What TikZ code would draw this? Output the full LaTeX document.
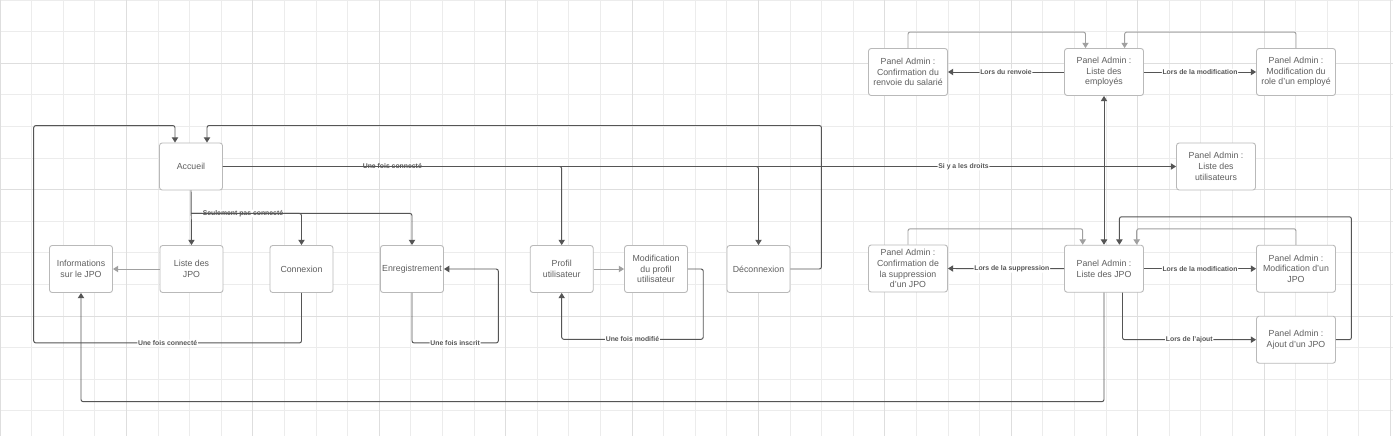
\documentclass[tikz,border=0pt]{standalone}
\usepackage{fontspec}
\setmainfont{Liberation Sans}
\usepackage{tikz}
\usetikzlibrary{arrows.meta,positioning,calc}
\definecolor{linegray}{RGB}{85,85,85}
\definecolor{lightline}{RGB}{160,160,160}
\definecolor{boxgray}{RGB}{185,185,185}
\definecolor{textgray}{RGB}{95,95,95}
\definecolor{gridlight}{RGB}{236,236,236}
\definecolor{griddark}{RGB}{222,222,222}

\begin{document}
\begin{tikzpicture}[
x=0.02cm,y=-0.02cm,
box/.style={draw=boxgray,fill=white,rounded corners=1.5pt,line width=0.5pt,align=center,text=textgray,font=\fontsize{5}{6.1}\selectfont,minimum width=1.26cm,minimum height=0.94cm,inner sep=1pt},
adminbox/.style={box,minimum width=1.58cm},
arr/.style={-{Triangle[width=3.6pt,length=3pt]},line width=0.55pt,linegray,rounded corners=1.2pt},
arrlight/.style={arr,lightline},
lbl/.style={fill=white,inner sep=0.4pt,text=linegray,font=\fontsize{3.9}{4}\selectfont\bfseries}
]
\useasboundingbox (0,0) rectangle (1393,436);
\fill[white] (0,0) rectangle (1393,436);
% grid
\foreach \i in {0,...,44} \draw[gridlight,line width=0.4pt] (\i*31.6,0) -- (\i*31.6,436);
\foreach \j in {0,...,13} \draw[gridlight,line width=0.4pt] (0,\j*31.6) -- (1393,\j*31.6);
\foreach \i in {0,4,...,44} \draw[griddark,line width=0.4pt] (\i*31.6,0) -- (\i*31.6,436);
\foreach \j in {2,6,10} \draw[griddark,line width=0.4pt] (0,\j*31.6) -- (1393,\j*31.6);

% user side
\node[box] (acc) at (191,166.5) {Accueil};
\node[box] (info) at (81,269) {Informations\\sur le JPO};
\node[box] (liste) at (191.5,269) {Liste des\\JPO};
\node[box] (conn) at (301.5,269) {Connexion};
\node[box] (enr) at (412,269) {Enregistrement};
\node[box] (prof) at (561.7,269) {Profil\\utilisateur};
\node[box] (modp) at (656,269) {Modification\\du profil\\utilisateur};
\node[box] (deco) at (758.5,269) {Déconnexion};

% admin side
\node[adminbox] (confr) at (908,72) {Panel Admin :\\Confirmation du\\renvoie du salarié};
\node[adminbox] (emp) at (1104,72) {Panel Admin :\\Liste des\\employés};
\node[adminbox] (modr) at (1296,72) {Panel Admin :\\Modification du\\role d'un employé};
\node[adminbox] (util) at (1216,166.5) {Panel Admin :\\Liste des\\utilisateurs};
\node[adminbox] (confs) at (908,268.5) {Panel Admin :\\Confirmation de\\la suppression\\d'un JPO};
\node[adminbox] (jpoa) at (1104,268.7) {Panel Admin :\\Liste des JPO};
\node[adminbox] (modj) at (1296,268.7) {Panel Admin :\\Modification d'un\\JPO};
\node[adminbox] (ajout) at (1296,339.7) {Panel Admin :\\Ajout d'un JPO};

\coordinate (split) at ($(acc.south)+(0,23)$);
\draw[arr] (acc.south) -- (liste.north);
\draw[arr] (split) -| node[lbl,pos=0.235]{Seulement pas connecté} (conn.north);
\draw[arr] (split) -| (enr.north);
\draw[arr] (acc.east) -| node[lbl,pos=0.25]{Une fois connecté} (prof.north);
\draw[arr] (acc.east) -| (deco.north);
\draw[arr] (acc.east) -- node[lbl,pos=0.777]{Si y a les droits} (util.west);
\draw[arr] (conn.south) |- node[lbl,pos=0.75]{Une fois connecté} ($(info.south)+(-47.3,50)$) |- ($(acc.north)+(-16,-17)$) -- ($(acc.north)+(-16,0)$);
\draw[arr] (deco.east) -| ($(deco.east)+(31,-143.5)$) -| ($(acc.north)+(16,0)$);
\draw[arrlight] (liste.west) -- (info.east);
\draw[arr] (enr.south) |- node[lbl,pos=0.75]{Une fois inscrit} ($(enr.south)+(86.3,50)$) |- (enr.east);
\draw[arrlight] (prof.east) -- (modp.west);
\draw[arr] (modp.east) -| ($(modp.east)+(15.3,70.3)$) -| node[lbl,pos=0.25]{Une fois modifié} (prof.south);

\draw[arr] (emp.west) -- node[lbl,pos=0.5]{Lors du renvoie} (confr.east);
\draw[arr] (emp.east) -- node[lbl,pos=0.5]{Lors de la modification} (modr.west);
\draw[arrlight] (confr.north) |- ($(emp.north)+(-18.5,-16)$) -- ($(emp.north)+(-18.5,0)$);
\draw[arrlight] (modr.north) |- ($(emp.north)+(20.6,-16)$) -- ($(emp.north)+(20.6,0)$);
\draw[arr,{Triangle[width=3.6pt,length=3pt]}-{Triangle[width=3.6pt,length=3pt]}] (emp.south) -- (jpoa.north);

\draw[arr] (jpoa.west) -- node[lbl,pos=0.45]{Lors de la suppression} (confs.east);
\draw[arr] (jpoa.east) -- node[lbl,pos=0.5]{Lors de la modification} (modj.west);
\draw[arr] ($(jpoa.south)+(18.5,0)$) |- node[lbl,pos=0.75]{Lors de l'ajout} (ajout.west);
\draw[arrlight] (confs.north) |- ($(jpoa.north)+(-21.3,-16)$) -- ($(jpoa.north)+(-21.3,0)$);
\draw[arrlight] (modj.north) |- ($(jpoa.north)+(32.7,-16)$) -- ($(jpoa.north)+(32.7,0)$);
\draw[arr] (ajout.east) -| ($(jpoa.north)+(247.4,-28)$) -| ($(jpoa.north)+(15.4,0)$);
\draw[arr] (jpoa.south) |- ($(info.south)+(0,108.7)$) -- (info.south);
\end{tikzpicture}
\end{document}
